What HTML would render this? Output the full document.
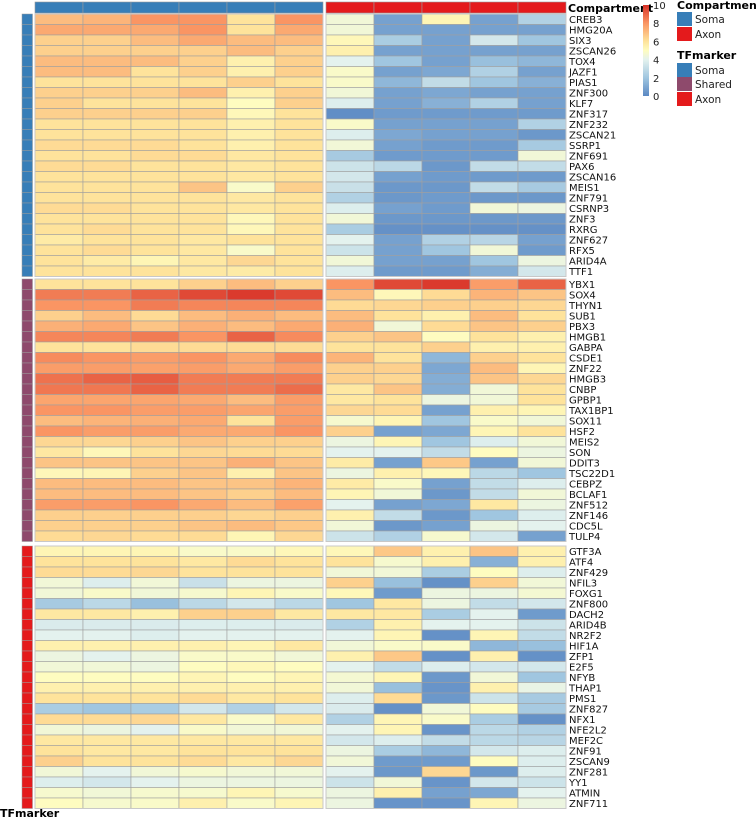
<!DOCTYPE html>
<html><head><meta charset="utf-8">
<style>
html,body{margin:0;padding:0;background:#fff;}
svg{display:block;}
text{font-family:"DejaVu Sans","Liberation Sans",sans-serif;}
</style></head>
<body>
<svg id="chart" width="756" height="819" xmlns="http://www.w3.org/2000/svg"></svg>
<script>
// ---- data ----
const somaCols = ["S1","S2","S3","S4","S5","S6"];
const axonCols = ["A1","A2","A3","A4","A5"];
const groups = ["Soma","Shared","Axon"];
const rowsSoma = ["CREB3","HMG20A","SIX3","ZSCAN26","TOX4","JAZF1","PIAS1","ZNF300","KLF7","ZNF317","ZNF232","ZSCAN21","SSRP1","ZNF691","PAX6","ZSCAN16","MEIS1","ZNF791","CSRNP3","ZNF3","RXRG","ZNF627","RFX5","ARID4A","TTF1"];
const rowsShared = ["YBX1","SOX4","THYN1","SUB1","PBX3","HMGB1","GABPA","CSDE1","ZNF22","HMGB3","CNBP","GPBP1","TAX1BP1","SOX11","HSF2","MEIS2","SON","DDIT3","TSC22D1","CEBPZ","BCLAF1","ZNF512","ZNF146","CDC5L","TULP4"];
const rowsAxon = ["GTF3A","ATF4","ZNF429","NFIL3","FOXG1","ZNF800","DACH2","ARID4B","NR2F2","HIF1A","ZFP1","E2F5","NFYB","THAP1","PMS1","ZNF827","NFX1","NFE2L2","MEF2C","ZNF91","ZSCAN9","ZNF281","YY1","ATMIN","ZNF711"];
const somaValsG1 = [[7,7.2,8,8,6,8],[7.5,7.5,7.5,8,6,7.5],[6.5,6.5,7,7.5,7,7],[6.5,6.5,6.5,6.5,7,6.5],[7,7,7,6.5,5.5,6.5],[7,7,6,6.5,5.5,6.5],[6,6,6,6,6.5,6],[6.5,6.5,6.5,7,5.5,6.5],[6.5,6,6,6,5,6.5],[6.5,6.5,6.5,6.5,5.2,6],[6,6,6,6,5.5,6],[6,6,6,6,5.5,6],[6.2,6.2,6.2,6,5.5,6],[6,6,6.2,6.2,5.8,6],[6.2,6.2,6,6,5.8,6],[6,6,6,6,5.8,6],[6,6,6,6.8,4.8,6.5],[6,6,6,6,5.8,6],[6.2,6.2,6,6,5.8,6],[6,6,6,6,5.2,6],[6,6.2,6,6,5.2,6],[5.7,6,6,5.8,6,6],[6,6.2,6,5.8,4.8,6],[6,5.7,5.3,5.8,6.3,6],[6,6,6,5.8,5.7,6]];
const axonValsG1 = [[4.5,0.8,5.3,0.8,2.5],[4.5,0.8,0.8,0.8,0.8],[5.2,2.3,0.8,3.5,2],[5.5,0.8,0.8,0.8,0.8],[4,2,0.8,1.8,1.5],[4.8,0.8,1,2.5,0.8],[4.8,1.5,3,2,1.3],[4.5,0.8,1,0.8,0.8],[3.8,0.8,1.3,2.5,0.8],[0.2,0.6,0.6,0.6,0.6],[4.8,0.8,0.8,0.8,2.5],[3.8,1,0.8,0.8,0.5],[4.5,0.8,0.6,0.6,2.2],[2.2,0.6,0.6,0.6,4.5],[3.3,2.8,0.5,3,3],[3.5,0.8,0.6,0.6,0.6],[3.2,0.5,0.5,3,2.2],[2.5,0.5,0.6,0.5,0.5],[3.8,0.8,0.6,4.5,4.3],[4.5,0.5,0.5,0.5,0.5],[2.3,0.3,0.3,0.3,0.3],[4,0.8,2.5,2.7,0.8],[3.3,0.8,2,4.5,0.6],[4.5,0.8,0.8,2,4.3],[3.8,0.6,0.6,1.2,3.5]];
const somaValsG2 = [[6,6,6,6.5,7,6.5],[8.5,8.5,9,9.5,9.8,9.5],[8,8,8.5,8.3,8.3,8.3],[6.5,7,6.2,7,7.3,7],[7.3,7.5,6.8,7.3,7,7.5],[8.3,8.3,8.5,8,9,8.2],[6,6,6.2,6.2,6.2,6.2],[8.2,8,7.8,8,7.5,8.2],[7.8,7.8,7.7,7.8,7.5,7.8],[8.7,9,9.1,8.5,8.5,8.5],[8.6,8.6,9,8.5,8.5,8.8],[7.6,7.6,7.6,7.5,7,7.8],[8,8,7.8,7.8,7.6,7.8],[7,7.2,7.3,7.5,6,7.8],[8,7.8,7.8,7.5,7.5,8],[6.3,6.3,6.5,6.8,6.5,6.5],[5.8,5.2,6,6.3,6.2,6.2],[6.8,6.8,6.8,6.8,7.3,6.8],[5.2,5.3,6.5,6.8,5.5,6.8],[7,7,7,6.8,6.8,7.2],[7,7,7,6.8,6.5,7],[7.8,7.8,8,7.5,7,7.7],[6.5,6.5,6.5,6.5,6.3,6.5],[6.5,6.5,6.5,6.8,7,6.7],[6.2,6.3,6.2,6.2,5.3,6.3]];
const axonValsG2 = [[8,9.5,9.8,7.8,9],[7,5.2,6.2,7.2,6.8],[6.2,6.3,6.5,6.5,6.3],[7,6,5.5,7,6],[7.3,4.5,6.2,6.8,6.5],[6.5,6.8,5,6,5.5],[6,6,6.5,5.5,5.5],[7.2,6,1.5,6.5,6],[6.5,6.5,1,7,5.3],[6.5,6.3,1.2,6.8,6.3],[5.8,6.8,1.2,4.5,6],[5.8,6,4.3,4.5,6],[6.3,6.2,0.8,5.5,5.3],[4.7,5.3,2,4.8,4.5],[6.5,0.8,1,5.3,6],[4.3,5.3,2,3.8,4.5],[4,4,3,5,4.3],[5.7,0.8,6.7,0.8,4.5],[4.3,5.5,5.2,2.8,2],[5.7,4.8,0.8,3,3.8],[5.3,4.5,0.5,3,4.5],[4,0.8,1,5.8,4.3],[5.5,3,0.5,2,3.8],[4.5,0.5,0.8,4.3,4],[3.3,2.5,4.7,3.5,0.8]];
const somaValsG3 = [[5.3,5.3,5.3,4.8,4.8,5.2],[6,6,6,5.8,6.2,6],[6.2,6.2,6.3,6,6,6],[4.5,3.8,4.5,3.2,4.3,4.3],[4.5,4.8,4.5,4.7,5.3,4.8],[2.2,2.8,1.8,2.8,3.5,2.8],[5.8,5.8,5.5,6.5,6.5,5.8],[3.7,3.7,3.7,3.8,3.8,3.7],[4,4,3.8,4,4,4],[5.5,5.5,5.5,5.5,5.3,5.8],[4.3,4,4.3,4.8,4.8,4.5],[4.5,4.5,4.3,5,5.2,5],[5,5,5,5.3,5,5.3],[5.5,5.5,5.5,5.5,5.5,5.5],[6,6,6,6.2,5.8,6],[2.3,2,2.3,3.5,2.5,3.5],[6.2,6.2,6.3,5.8,4.8,5.8],[4.5,4.3,4,4.8,4.5,4.5],[5.8,5.8,5.8,5.8,5.8,5.8],[6,5.8,5.8,6,6,6],[6.5,6,6,6.2,5.8,6.3],[4.5,4,4.5,4.7,4.5,4.5],[3.8,3.5,4,4.3,4.3,4.3],[4.7,4.5,4.7,4.7,5.3,4.7],[5,4.7,4.8,5.5,4.8,5.3]];
const axonValsG3 = [[5.2,6.7,5.5,6.8,5.5],[6,4.7,5.5,1.3,5.5],[4.5,4.5,2.3,5,3.8],[6.5,1.8,0.3,6.5,4.5],[5.2,0.6,4.3,4.3,4.6],[2,5.8,4.3,3,3.5],[5.8,5.8,2.3,4,0.6],[2.5,5.5,4,4,3.3],[4,5.3,0.3,5.3,3],[4.5,4.8,4.8,1.5,1.8],[5.5,6.7,0.3,5.5,0.3],[4,3,3.8,3.5,3.5],[4.6,5.3,0.5,4.5,2],[4.5,1.8,0.4,5.5,4.2],[3.8,6.2,0.5,3.3,2.2],[3.7,0.3,4.5,5,2.2],[2.5,5.3,4.8,2.3,0.3],[4,5.3,0.4,2.8,2.5],[3.5,3.8,3,2.8,2.7],[4.3,2.3,1.5,3.5,3.8],[4.5,0.6,0.6,5,3.8],[4,0.5,6.3,0.5,3.8],[3.3,4.5,0.4,3.5,3.3],[4.3,5.5,0.8,1,4],[4.3,0.4,0.4,5.3,4.3]];
const legendTicks = [0,2,4,6,8,10];

// ---- layout ----
const NS="http://www.w3.org/2000/svg";
const svg=document.getElementById('chart');
function mk(tag,attrs,parent){const e=document.createElementNS(NS,tag);for(const k in attrs)e.setAttribute(k,attrs[k]);(parent||svg).appendChild(e);return e;}
const stops=[[0,[90,136,195]],[2,[160,198,224]],[4,[228,242,238]],[5,[254,252,192]],[6,[254,227,155]],[8,[250,149,99]],[10,[215,48,39]]];
function color(v){v=Math.max(0,Math.min(10,v));for(let i=0;i<stops.length-1;i++){const a=stops[i],b=stops[i+1];if(v<=b[0]){const t=(v-a[0])/(b[0]-a[0]);const c=a[1].map((x,j)=>Math.round(x+(b[1][j]-x)*t));return `rgb(${c[0]},${c[1]},${c[2]})`;}}return 'rgb(215,48,39)';}
const somaX0=35, somaX1=323, axonX0=326, axonX1=566;
const somaW=(somaX1-somaX0)/somaCols.length, axonW=(axonX1-axonX0)/axonCols.length;
const rowH=10.5;
const groupY=[14,279,546];
const groupRows=[rowsSoma,rowsShared,rowsAxon];
const somaVals=[somaValsG1,somaValsG2,somaValsG3];
const axonVals=[axonValsG1,axonValsG2,axonValsG3];
const groupColor={"Soma":"#377eb8","Shared":"#8e4a6c","Axon":"#e41a1c"};

// top annotation
somaCols.forEach((c,i)=>{const r=mk('rect',{x:somaX0+i*somaW,y:2,width:somaW,height:11,fill:'#377eb8',stroke:'#9a9a9a','stroke-width':0.6});

});
axonCols.forEach((c,i)=>{const r=mk('rect',{x:axonX0+i*axonW,y:2,width:axonW,height:11,fill:'#e41a1c',stroke:'#9a9a9a','stroke-width':0.6});

});
const ct=mk('text',{x:568,y:12,'font-size':11,'font-weight':'bold'});ct.textContent='Compartment';



groups.forEach((g,gi)=>{
  const rows=groupRows[gi], y0=groupY[gi];
  rows.forEach((name,ri)=>{
    const y=y0+ri*rowH;
    const a=mk('rect',{x:22,y:y,width:10.5,height:rowH,fill:groupColor[g],stroke:'#9a9a9a','stroke-width':0.5});
    
    
    somaVals[gi][ri].forEach((v,ci)=>{
      const r=mk('rect',{x:somaX0+ci*somaW,y:y,width:somaW,height:rowH,fill:color(v),stroke:'#a0a0a0','stroke-width':0.6});
      
      
    });
    axonVals[gi][ri].forEach((v,ci)=>{
      const r=mk('rect',{x:axonX0+ci*axonW,y:y,width:axonW,height:rowH,fill:color(v),stroke:'#a0a0a0','stroke-width':0.6});
      
      
    });
    const t=mk('text',{x:569,y:y+rowH/2+3.7,'font-size':10,fill:'#111'});t.textContent=name;
    
    
  });
  // block outlines
  mk('rect',{x:somaX0,y:y0,width:somaX1-somaX0,height:rows.length*rowH,fill:'none',stroke:'#c8c8c8','stroke-width':1});
  mk('rect',{x:axonX0,y:y0,width:axonX1-axonX0,height:rows.length*rowH,fill:'none',stroke:'#c8c8c8','stroke-width':1});
});
const tf=mk('text',{x:0,y:817,'font-size':11,'font-weight':'bold'});tf.textContent='TFmarker';



// color legend
const defs=mk('defs',{});
const grad=mk('linearGradient',{id:'cg',x1:0,y1:1,x2:0,y2:0},defs);
for(let v=0;v<=10;v+=0.5){mk('stop',{offset:(v/10),'stop-color':color(v)},grad);}
const cbTop=5,cbBot=96;
const cb=mk('rect',{x:643,y:cbTop,width:6,height:cbBot-cbTop,fill:'url(#cg)'});


legendTicks.forEach(v=>{const y=cbBot-(v/10)*(cbBot-cbTop);const t=mk('text',{x:653,y:y+4,'font-size':10,fill:'#222'});t.textContent=String(v);

});

// discrete legends
function legTitle(txt,y,name){const t=mk('text',{x:677,y:y,'font-size':11,'font-weight':'bold'});t.textContent=txt;

}
function legItem(txt,y,col,name){const r=mk('rect',{x:677,y:y,width:15,height:14,fill:col});


const t=mk('text',{x:695,y:y+11,'font-size':10.5,fill:'#222'});t.textContent=txt;

}
legTitle('Compartment',9,'compartment-legend-title');
legItem('Soma',12,'#377eb8','compartment-legend-soma');
legItem('Axon',27,'#e41a1c','compartment-legend-axon');
legTitle('TFmarker',59,'tfmarker-legend-title');
legItem('Soma',63,'#377eb8','tfmarker-legend-soma');
legItem('Shared',77,'#8e4a6c','tfmarker-legend-shared');
legItem('Axon',92,'#e41a1c','tfmarker-legend-axon');
</script>
</body></html>
